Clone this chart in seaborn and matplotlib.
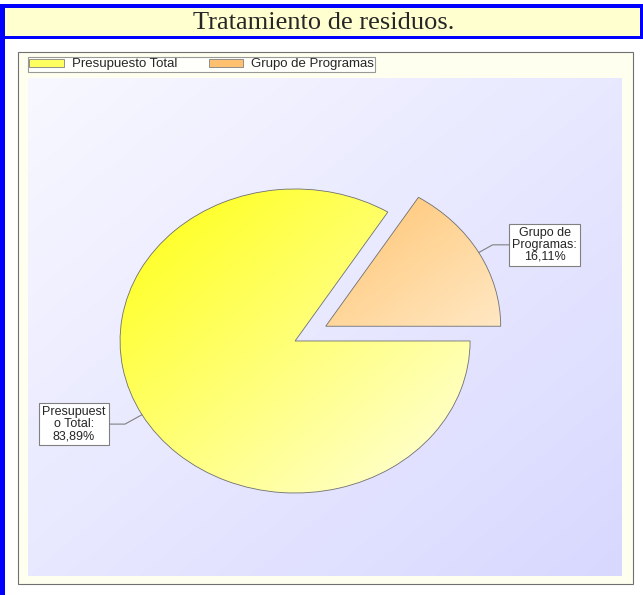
import numpy as np
import seaborn as sns
import matplotlib.pyplot as plt
from matplotlib.patches import Rectangle, Patch
from matplotlib.colors import to_rgb

# datos
categorias = ["Presupuesto Total", "Grupo de Programas"]
porcentajes = [83.89, 16.11]
etiquetas = ["Presupuest\no Total:", "Grupo de\nProgramas:"]
titulo = "Tratamiento de residuos."

sns.set_style("white")
plt.rcParams['font.family'] = ['Liberation Sans', 'DejaVu Sans']

W, H = 643, 595
fig = plt.figure(figsize=(W / 100, H / 100), dpi=100)
fig.patch.set_facecolor("white")


def caja(x0, y0, x1, y1, **kw):
    r = Rectangle((x0 / W, 1 - y1 / H), (x1 - x0) / W, (y1 - y0) / H,
                  transform=fig.transFigure, zorder=-5, **kw)
    fig.patches.append(r)


# marco de la pagina
caja(0, 4, 643, 8, color="#0000ff", lw=0)
caja(0, 4, 5, 595, color="#0000ff", lw=0)
caja(5, 8, 643, 36, color="#ffffd0", lw=0)
caja(5, 36, 643, 39, color="#0000ff", lw=0)
caja(640, 8, 643, 39, color="#0000ff", lw=0)
caja(18, 52, 633, 584, facecolor="#fffff0", edgecolor="#707070", lw=0.8)
fig.text(324 / W, 1 - 23 / H, titulo, ha="center", va="center",
         fontsize=19, family="Liberation Serif")


def degradado(c0, c1, n=200):
    a, b = np.array(to_rgb(c0)), np.array(to_rgb(c1))
    x = np.linspace(0, 1, n)
    t = (x[None, :] + x[:, None]) / 2
    return a * (1 - t[..., None]) + b * t[..., None]


ax = fig.add_axes([28 / W, 1 - 576 / H, 594 / W, 498 / H])
ax.imshow(degradado("#f8f8ff", "#d8d8ff"), extent=[0, 1, 0, 1],
          transform=ax.transAxes, aspect="auto", zorder=0)

wedges, _ = ax.pie(porcentajes, startangle=58, counterclock=True,
                   explode=[0, 0.2], radius=1,
                   wedgeprops=dict(edgecolor="#707070", linewidth=0.6))

grads = [("#ffff10", "#ffffe0"), ("#ffc470", "#ffe8c4")]
for w, (c0, c1) in zip(wedges, grads):
    bb = w.get_path().get_extents()
    im = ax.imshow(degradado(c0, c1), extent=[bb.x0, bb.x1, bb.y0, bb.y1],
                   aspect="auto", zorder=1)
    im.set_clip_path(w)
    w.set_facecolor("none")
    w.set_zorder(2)

ax.set_aspect("auto")
ax.set_xlim(-1.526, 1.868)
ax.set_ylim(-1.546, 1.730)
ax.axis("off")

# etiquetas
pos_texto = [(0.0774, 0.305), (0.870, 0.665)]
for w, et, p, pt in zip(wedges, etiquetas, porcentajes, pos_texto):
    ang = np.deg2rad((w.theta1 + w.theta2) / 2)
    cx, cy = w.center
    xy = (cx + np.cos(ang), cy + np.sin(ang))
    txt = et + "\n" + f"{p:.2f}".replace(".", ",") + "%"
    ax.annotate(txt, xy=xy, xytext=pt, textcoords="axes fraction",
                ha="center", va="center", fontsize=9, linespacing=1.0,
                bbox=dict(boxstyle="square,pad=0.25", fc="white", ec="#808080", lw=0.8),
                arrowprops=dict(arrowstyle="-", color="#808080", lw=0.8,
                                connectionstyle="angle,angleA=0,angleB=29,rad=0",
                                shrinkA=0, shrinkB=0),
                zorder=5)

# leyenda
handles = [Patch(facecolor=c, edgecolor="#808080", lw=0.6)
           for c in ["#ffff60", "#ffc070"]]
leg = fig.legend(handles, categorias, loc="upper left", ncol=2,
                 bbox_to_anchor=(28 / W, 1 - 57 / H), fontsize=9.5,
                 frameon=True, fancybox=False, borderpad=0.1,
                 handlelength=2.6, handleheight=0.55, columnspacing=2.4,
                 handletextpad=0.6, borderaxespad=0)
leg.get_frame().set_edgecolor("#808080")
leg.get_frame().set_linewidth(0.8)

fig.savefig("out.png", dpi=100)
